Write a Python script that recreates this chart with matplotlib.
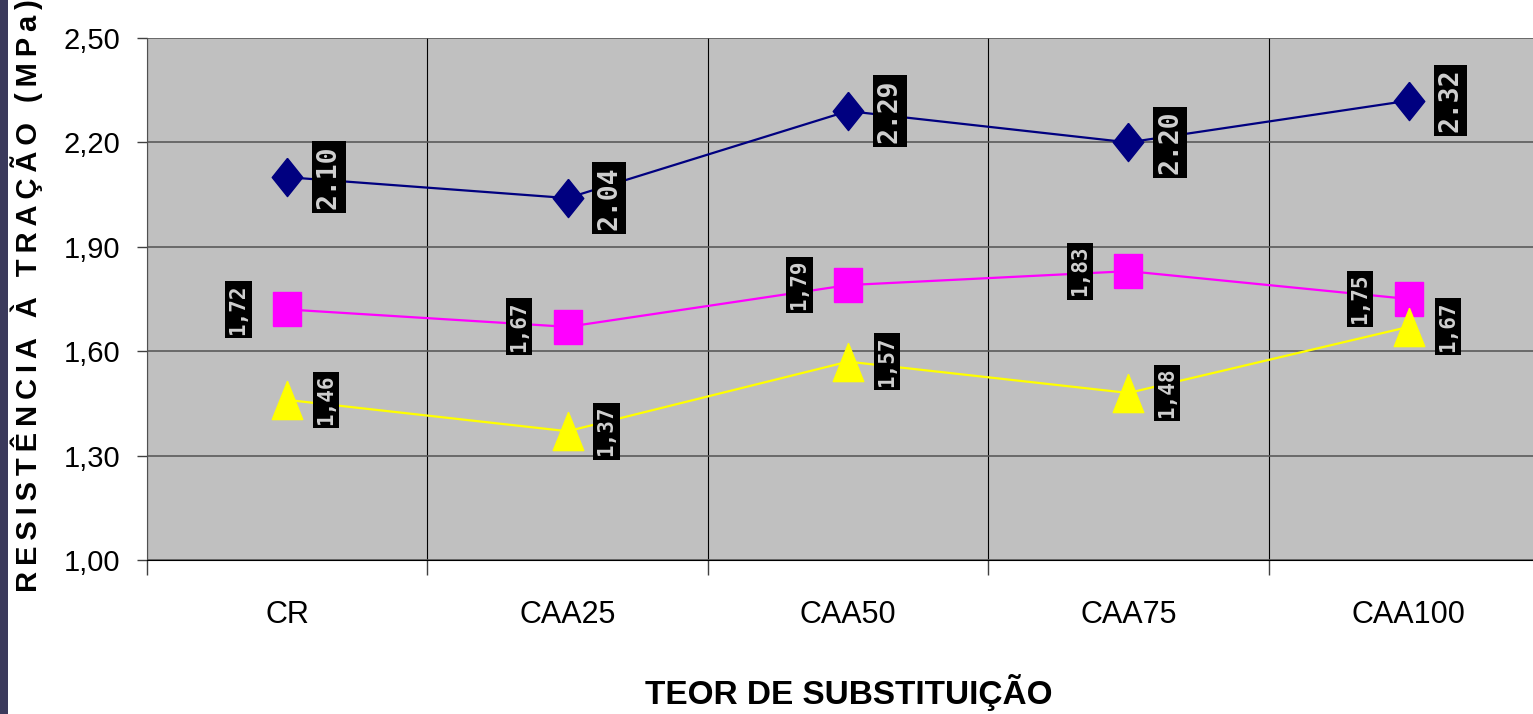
import numpy as np
import matplotlib.pyplot as plt
from matplotlib.patches import Rectangle

categories = ["CR", "CAA25", "CAA50", "CAA75", "CAA100"]
tracao_azul = [2.10, 2.04, 2.29, 2.20, 2.32]
tracao_rosa = [1.72, 1.67, 1.79, 1.83, 1.75]
tracao_amarelo = [1.46, 1.37, 1.57, 1.48, 1.67]
rotulos_azul = ["2.10", "2.04", "2.29", "2.20", "2.32"]
rotulos_rosa = ["1,72", "1,67", "1,79", "1,83", "1,75"]
rotulos_amarelo = ["1,46", "1,37", "1,57", "1,48", "1,67"]
y_ticks = [1.00, 1.30, 1.60, 1.90, 2.20, 2.50]

W, H = 1533, 714
fig = plt.figure(figsize=(W / 100, H / 100), dpi=100)
fig.patch.set_facecolor("white")

# plot area runs a bit past the right edge of the picture
left, right, top, bottom = 147, 1549, 38, 560
ax = fig.add_axes([left / W, 1 - bottom / H, (right - left) / W, (bottom - top) / H])
ax.set_facecolor("#C0C0C0")

# decorative strip on the left edge
fig.patches.append(Rectangle((0, 0), 8 / W, 1, transform=fig.transFigure,
                             facecolor="#3b3a5c", edgecolor="none", zorder=0))

diamond = [(0, 1), (0.8, 0), (0, -1), (-0.8, 0), (0, 1)]
square = [(-0.85, -1), (0.85, -1), (0.85, 1), (-0.85, 1), (-0.85, -1)]
triangle = [(0, 1), (0.8, -1), (-0.8, -1), (0, 1)]

x = np.arange(len(categories))
ax.plot(x, tracao_azul, color="#000080", lw=1.6, marker=diamond, ms=27.5,
        mec="#000080", zorder=3)
ax.plot(x, tracao_rosa, color="#FF00FF", lw=1.6, marker=square, ms=24.5,
        mec="#FF00FF", zorder=3)
ax.plot(x, tracao_amarelo, color="#FFFF00", lw=1.6, marker=triangle, ms=27.5,
        mec="#FFFF00", zorder=4)


def add_labels(values, labels, dx, size):
    for xi, v, t in zip(x, values, labels):
        ax.annotate(t, (xi, v), xytext=(dx, 0), textcoords="offset points",
                    rotation=90, ha="center", va="center", fontsize=size,
                    family="DejaVu Sans Mono", weight="bold", color="#D0D0D0",
                    bbox=dict(boxstyle="square,pad=0.15", fc="black", ec="none"),
                    zorder=5)


add_labels(tracao_azul, rotulos_azul, 30, 19)
add_labels(tracao_rosa, rotulos_rosa, -35, 15)
add_labels(tracao_amarelo, rotulos_amarelo, 28, 15)

ax.set_xlim(-0.5, 4.5)
ax.set_ylim(1.0, 2.5)
ax.set_yticks(y_ticks)
ax.set_yticklabels([f"{v:.2f}".replace(".", ",") for v in y_ticks],
                   family="Liberation Sans", fontsize=21)
ax.tick_params(axis="y", length=7, width=1, pad=12, color="#404040")
ax.set_xticks(x)
ax.set_xticklabels(categories, family="Liberation Sans", fontsize=22)
ax.set_xticks(np.arange(-0.5, 5, 1), minor=True)
ax.tick_params(axis="x", which="major", length=0, pad=29)
ax.tick_params(axis="x", which="minor", length=11, width=1, color="#404040")

ax.grid(axis="y", color="#5a5a5a", lw=1.2)
ax.grid(axis="x", which="minor", color="black", lw=0.8)
ax.set_axisbelow(True)
for s in ["top", "right"]:
    ax.spines[s].set_visible(False)
ax.spines["left"].set_color("#505050")
ax.spines["bottom"].set_color("black")

ylabel = "\u2009".join("RESISTÊNCIA À TRAÇÃO (MPa)")
fig.text(27 / W, 1 - 592 / H, ylabel, rotation=90, ha="center", va="bottom",
         fontsize=21, weight="bold", family=["Liberation Sans", "DejaVu Sans"])
fig.text(849 / W, 1 - 704 / H, "TEOR DE SUBSTITUIÇÃO", ha="center", va="baseline",
         fontsize=24, weight="bold", family=["Liberation Sans", "DejaVu Sans"])

fig.savefig("out.png", dpi=100)
